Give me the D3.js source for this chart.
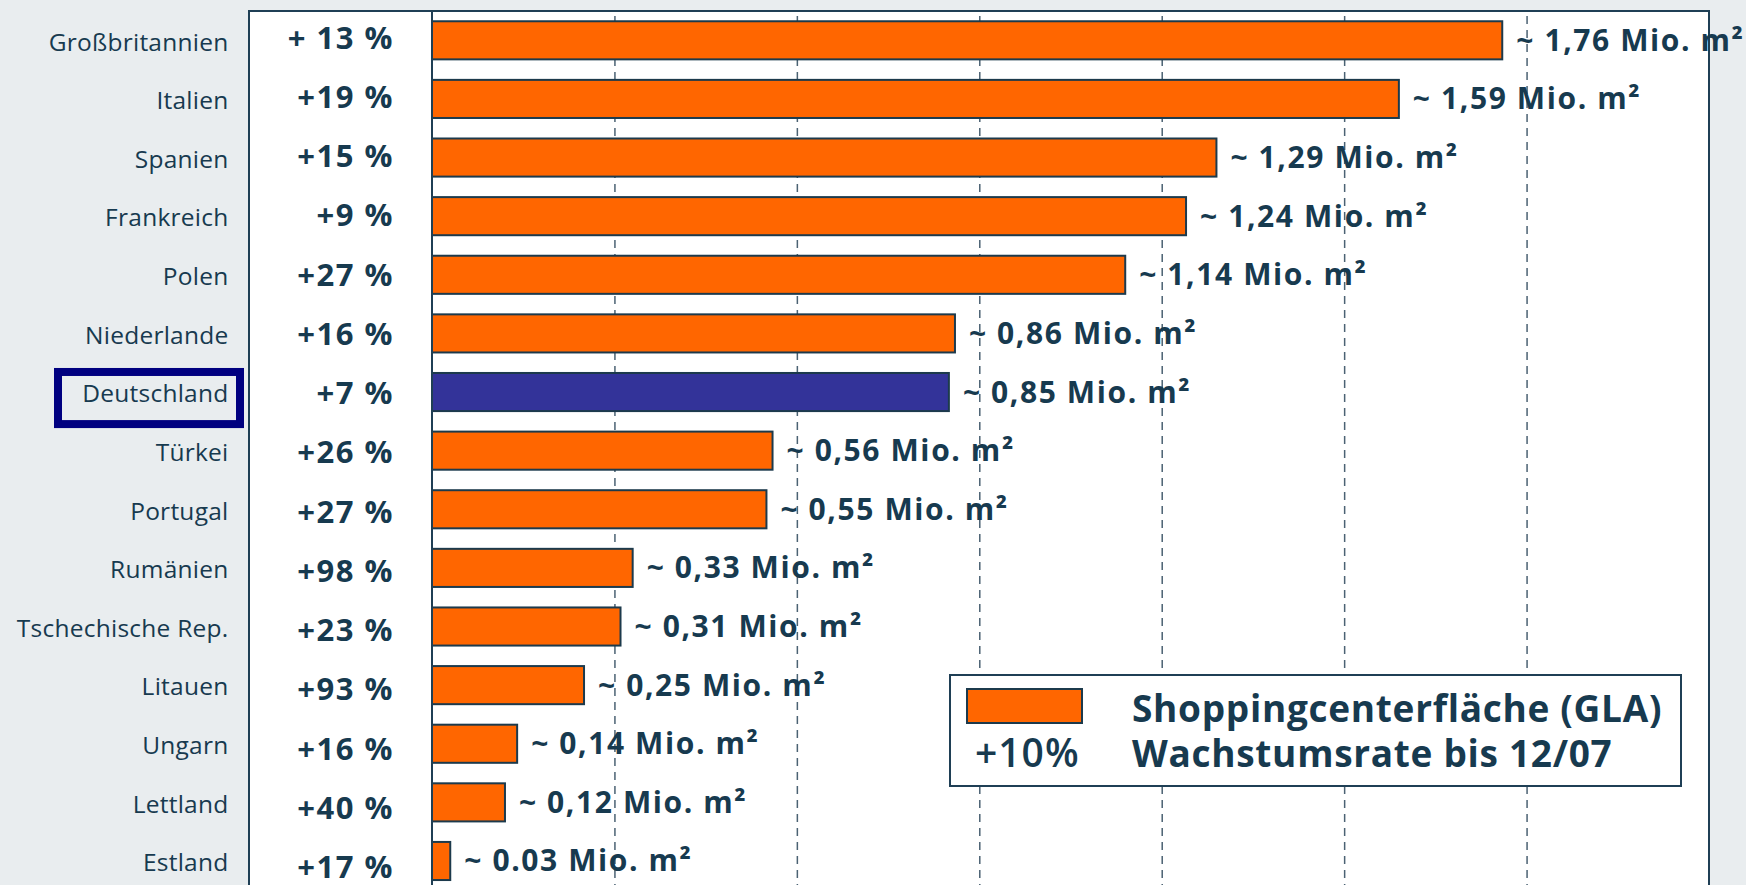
<!DOCTYPE html>
<html>
<head>
	<meta charset="utf-8">
	<title>Shoppingcenterfläche</title>
	<script src="https://d3js.org/d3.v7.min.js"></script>
	<style>
		body { margin: 0; background: #e9edef; overflow: hidden; }
		text { font-family: 'Open Sans', sans-serif; fill: #173a4f; }
	</style>
</head>
<body>
	<div id="chart"></div>
	<script type="text/javascript">
		//data.........................................
		var countries = ['Großbritannien', 'Italien', 'Spanien', 'Frankreich', 'Polen', 'Niederlande',
			'Deutschland', 'Türkei', 'Portugal', 'Rumänien', 'Tschechische Rep.', 'Litauen',
			'Ungarn', 'Lettland', 'Estland'];
		var areaValues = [1.76, 1.59, 1.29, 1.24, 1.14, 0.86, 0.85, 0.56, 0.55, 0.33, 0.31, 0.25, 0.14, 0.12, 0.03];
		var growthLabels = ['+ 13 %', '+19 %', '+15 %', '+9 %', '+27 %', '+16 %', '+7 %', '+26 %',
			'+27 %', '+98 %', '+23 %', '+93 %', '+16 %', '+40 %', '+17 %'];
		var valueLabels = ['~ 1,76 Mio. m²', '~ 1,59 Mio. m²', '~ 1,29 Mio. m²', '~ 1,24 Mio. m²',
			'~ 1,14 Mio. m²', '~ 0,86 Mio. m²', '~ 0,85 Mio. m²', '~ 0,56 Mio. m²', '~ 0,55 Mio. m²',
			'~ 0,33 Mio. m²', '~ 0,31 Mio. m²', '~ 0,25 Mio. m²', '~ 0,14 Mio. m²', '~ 0,12 Mio. m²',
			'~ 0.03 Mio. m²'];
		var gridTicks = [0.3, 0.6, 0.9, 1.2, 1.5, 1.8];
		var highlight = 'Deutschland';
		var legendLabels = ['Shoppingcenterfläche (GLA)', 'Wachstumsrate bis 12/07'];
		var legendGrowth = '+10%';

		var width = 1746;
		var height = 885;
		var panel = { left: 249, top: 11, right: 1709, bottom: 892 };

		//scales..........................
		var xScale = d3.scaleLinear()
			.domain([0, 2.1])
			.range([432, panel.right]);

		var yScale = d3.scaleBand()
			.domain(countries)
			.range([panel.top, 890.3])
			.paddingInner(0.35)
			.paddingOuter(0.175);

		// the growth column drifts a little lower than the bars
		var pctScale = d3.scalePoint()
			.domain(countries)
			.range([48.5, 878]);

		var svg = d3.select('#chart').append('svg')
			.attr('width', width)
			.attr('height', height);

		//white panel.....................
		svg.append('rect')
			.attr('x', panel.left)
			.attr('y', panel.top)
			.attr('width', panel.right - panel.left)
			.attr('height', panel.bottom - panel.top)
			.style('fill', '#fff')
			.style('stroke', '#1f3f55')
			.style('stroke-width', 2);

		//dashed grid via axis...........
		var grid = svg.append('g')
			.attr('transform', 'translate(0,' + panel.bottom + ')')
			.call(d3.axisBottom(xScale)
				.tickValues(gridTicks)
				.tickSize(-(panel.bottom - panel.top))
				.tickFormat(''));
		grid.select('.domain').remove();
		grid.selectAll('line')
			.style('stroke', '#4b6273')
			.style('stroke-width', 1.5)
			.style('stroke-dasharray', '8,6');

		//bars............................
		svg.append('g').selectAll('rect')
			.data(areaValues)
			.enter()
			.append('rect')
			.attr('x', xScale(0))
			.attr('y', (d, i) => yScale(countries[i]))
			.attr('width', d => xScale(d) - xScale(0))
			.attr('height', yScale.bandwidth())
			.style('fill', (d, i) => countries[i] === highlight ? '#333399' : '#ff6600')
			.style('stroke', '#1c3a4c')
			.style('stroke-width', 2);

		//value axis line.................
		svg.append('line')
			.attr('x1', xScale(0)).attr('x2', xScale(0))
			.attr('y1', panel.top).attr('y2', panel.bottom)
			.style('stroke', '#1f3f55')
			.style('stroke-width', 2);

		//value labels....................
		svg.append('g').selectAll('text')
			.data(valueLabels)
			.enter()
			.append('text')
			.attr('x', (d, i) => xScale(areaValues[i]) + 14)
			.attr('y', (d, i) => yScale(countries[i]) + yScale.bandwidth() / 2)
			.attr('dy', '0.35em')
			.style('font-size', '30px')
			.style('font-weight', 'bold')
			.style('letter-spacing', '1.6px')
			.text(d => d);

		//growth labels...................
		svg.append('g').selectAll('text')
			.data(growthLabels)
			.enter()
			.append('text')
			.attr('x', 394)
			.attr('y', (d, i) => pctScale(countries[i]))
			.attr('text-anchor', 'end')
			.style('font-size', '31px')
			.style('font-weight', 'bold')
			.style('letter-spacing', '1.5px')
			.text(d => d);

		//country labels..................
		svg.append('g').selectAll('text')
			.data(countries)
			.enter()
			.append('text')
			.attr('x', 228.5)
			.attr('y', d => yScale(d) + yScale.bandwidth() / 2)
			.attr('dy', '0.42em')
			.attr('text-anchor', 'end')
			.style('font-size', '24.5px')
			.style('letter-spacing', '0.25px')
			.text(d => d);

		//highlight box...................
		svg.append('rect')
			.attr('x', 58)
			.attr('y', yScale(highlight) - 1)
			.attr('width', 182)
			.attr('height', yScale.bandwidth() + 14)
			.style('fill', 'none')
			.style('stroke', '#000080')
			.style('stroke-width', 8);

		//legend..........................
		var legend = svg.append('g').attr('transform', 'translate(950,675)');
		legend.append('rect')
			.attr('width', 731)
			.attr('height', 111)
			.style('fill', '#fff')
			.style('stroke', '#1f3f55')
			.style('stroke-width', 2);
		legend.append('rect')
			.attr('x', 17)
			.attr('y', 14)
			.attr('width', 115)
			.attr('height', 34)
			.style('fill', '#ff6600')
			.style('stroke', '#1c3a4c')
			.style('stroke-width', 2);
		legend.append('text')
			.attr('x', 25)
			.attr('y', 92)
			.style('font-size', '39px')
			.style('font-weight', 600)
			.style('letter-spacing', '1px')
			.text(legendGrowth);
		legend.selectAll('text.lab')
			.data(legendLabels)
			.enter()
			.append('text')
			.attr('class', 'lab')
			.attr('x', 182)
			.attr('y', (d, i) => 47 + i * 45)
			.style('font-size', '37px')
			.style('font-weight', 'bold')
			.style('letter-spacing', '0.7px')
			.text(d => d);
	</script>
</body>
</html>
